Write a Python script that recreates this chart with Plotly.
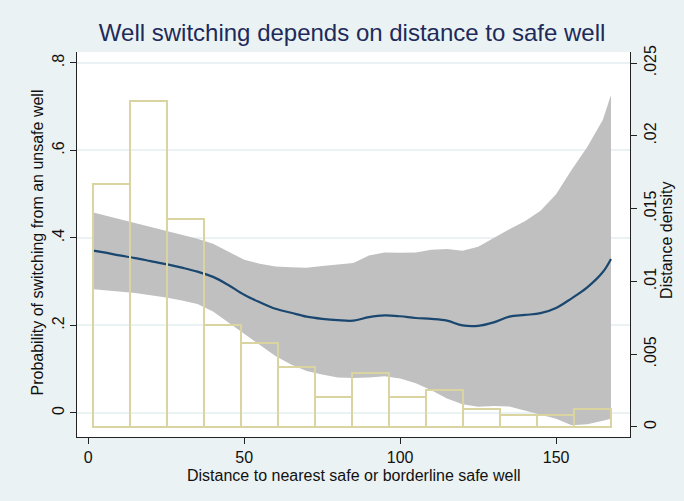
import plotly.graph_objects as go

# ---- data ----
dist = [1.6, 5, 10, 15, 20, 25, 30, 35, 40, 45, 50, 55, 60, 65, 70, 75, 80, 85,
        90, 95, 100, 105, 110, 115, 120, 125, 130, 135, 140, 145, 150, 155, 160, 165, 167.6]
fit = [0.371, 0.367, 0.360, 0.354, 0.347, 0.340, 0.332, 0.323, 0.311, 0.292, 0.270,
       0.253, 0.238, 0.229, 0.220, 0.215, 0.212, 0.211, 0.219, 0.223, 0.221, 0.217,
       0.215, 0.211, 0.200, 0.199, 0.207, 0.220, 0.224, 0.228, 0.240, 0.262, 0.287,
       0.322, 0.352]
ci_upper = [0.458, 0.452, 0.443, 0.434, 0.424, 0.415, 0.407, 0.398, 0.387, 0.368, 0.350,
            0.341, 0.335, 0.333, 0.332, 0.336, 0.339, 0.343, 0.360, 0.367, 0.366, 0.367,
            0.373, 0.375, 0.371, 0.380, 0.400, 0.420, 0.438, 0.462, 0.500, 0.556, 0.608,
            0.670, 0.727]
ci_lower = [0.283, 0.281, 0.278, 0.274, 0.269, 0.264, 0.257, 0.249, 0.232, 0.207, 0.182,
            0.155, 0.130, 0.111, 0.096, 0.088, 0.081, 0.080, 0.081, 0.084, 0.079, 0.068,
            0.052, 0.033, 0.020, 0.014, 0.016, 0.015, 0.006, -0.004, -0.013, -0.028, -0.026,
            -0.018, -0.013]

bin_mid = [7.53, 19.39, 31.24, 43.10, 54.96, 66.81, 78.67, 90.53, 102.39, 114.24,
           126.10, 137.96, 149.81, 161.67]
bin_width = 11.857
density = [0.01670, 0.02241, 0.01429, 0.00700, 0.00574, 0.00413, 0.00206, 0.00372,
           0.00206, 0.00252, 0.00127, 0.00085, 0.00085, 0.00127]

x_ticks = [0, 50, 100, 150]
y_ticks = [0, 0.2, 0.4, 0.6, 0.8]
y_ticktext = ["0", ".2", ".4", ".6", ".8"]
y2_ticks = [0, 0.005, 0.01, 0.015, 0.02, 0.025]
y2_ticktext = ["0", ".005", ".01", ".015", ".02", ".025"]

title_text = "Well switching depends on distance to safe well"
x_title = "Distance to nearest safe or borderline safe well"
y_title = "Probability of switching from an unsafe well"
y2_title = "Distance density"

FONT = "Liberation Sans, Arial, sans-serif"
BG = "#EAF2F3"
TXT = "#111111"

fig = go.Figure()

# CI band
fig.add_trace(go.Scatter(x=dist, y=ci_lower, mode="lines", line=dict(width=0, color="#C0C0C0"),
                         showlegend=False, hoverinfo="skip"))
fig.add_trace(go.Scatter(x=dist, y=ci_upper, mode="lines", line=dict(width=0, color="#C0C0C0"),
                         fill="tonexty", fillcolor="#C0C0C0", showlegend=False, hoverinfo="skip"))

# histogram of distance (right axis)
fig.add_trace(go.Bar(x=bin_mid, y=density, width=[bin_width] * len(bin_mid), yaxis="y2",
                     marker=dict(color="rgba(0,0,0,0)", line=dict(color="#DAD4A0", width=2)),
                     showlegend=False))

# fitted line
fig.add_trace(go.Scatter(x=dist, y=fit, mode="lines", line=dict(color="#1A476F", width=2.2),
                         showlegend=False, line_shape="spline"))

axis_common = dict(
    showline=True, linecolor="#222222", linewidth=1.2,
    ticks="outside", ticklen=6, tickcolor="#222222", tickwidth=1,
    tickfont=dict(family=FONT, size=16, color=TXT),
    zeroline=False, automargin=False,
)

fig.update_layout(
    width=684, height=501,
    paper_bgcolor=BG, plot_bgcolor="white",
    margin=dict(l=77, r=54, t=52, b=64, autoexpand=False),
    font=dict(family=FONT, color=TXT),
    title=dict(text=title_text, x=0.5148, xanchor="center", y=0.935, yanchor="middle",
               font=dict(family=FONT, size=24, color="#1E2A5A")),
    bargap=0,
    xaxis=dict(range=[-3.62, 173.7], tickvals=x_ticks, showgrid=False, **axis_common),
    yaxis=dict(range=[-0.055, 0.825], tickvals=y_ticks, ticktext=y_ticktext, tickangle=-90,
               showgrid=True, gridcolor=BG, gridwidth=2, **axis_common),
    yaxis2=dict(range=[-0.000688, 0.02576], tickvals=y2_ticks, ticktext=y2_ticktext,
                tickangle=-90, overlaying="y", side="right", showgrid=False, **axis_common),
)

ann_font = dict(family=FONT, size=16, color=TXT)
fig.add_annotation(text=x_title, xref="paper", yref="paper", x=0.5, y=-0.1,
                   xanchor="center", yanchor="middle", showarrow=False, font=ann_font)
fig.add_annotation(text=y_title, xref="paper", yref="paper", x=-0.0714, y=0.504,
                   xanchor="center", yanchor="middle", textangle=-90, showarrow=False,
                   font=ann_font)
fig.add_annotation(text=y2_title, xref="paper", yref="paper", x=1.0669, y=0.512,
                   xanchor="center", yanchor="middle", textangle=-90, showarrow=False,
                   font=ann_font)

fig.write_html("out.html",
               config={"displayModeBar": False},
               post_script="document.body.style.margin='0';"
                           "document.body.style.background='#EAF2F3';")
